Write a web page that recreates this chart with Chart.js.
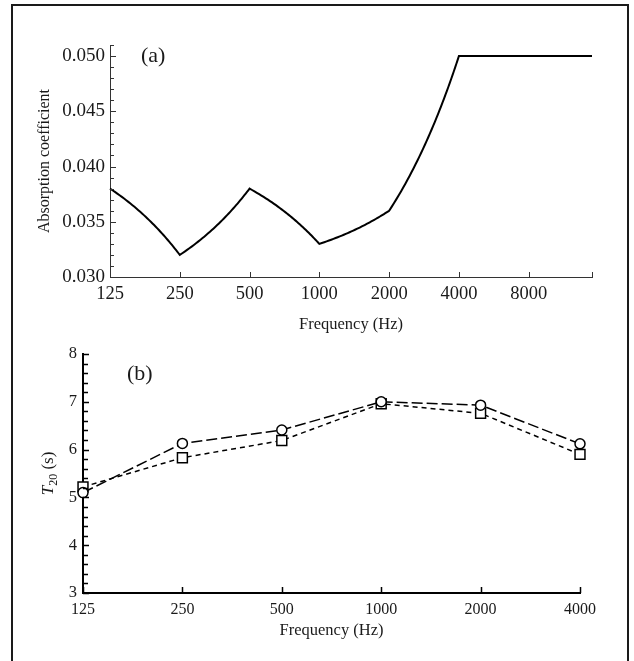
<!DOCTYPE html>
<html>
<head>
<meta charset="utf-8">
<title>Absorption coefficient and T20</title>
<script src="https://cdn.jsdelivr.net/npm/chart.js@4.4.1/dist/chart.umd.min.js"></script>
<style>
  body { margin: 0; background: #fff; }
  #frame { position: absolute; left: 11px; top: 4px; width: 614px; height: 720px; border: 2px solid #1a1a1a; }
  canvas { position: absolute; left: 0; }
  #chartA { top: 0; }
  #chartB { top: 335px; }
</style>
</head>
<body>
<div id="frame"></div>
<canvas id="chartA" width="634" height="335"></canvas>
<canvas id="chartB" width="634" height="326"></canvas>
<script>
// (a) absorption coefficient vs frequency
const freqA = [125, 250, 500, 1000, 2000, 4000, 15000];
const absorption = [0.038, 0.032, 0.038, 0.033, 0.036, 0.050, 0.050];
const freqTicksA = [125, 250, 500, 1000, 2000, 4000, 8000];
const absTicks = [0.030, 0.035, 0.040, 0.045, 0.050];

// (b) T20 per octave band, two series
const bandsB = [125, 250, 500, 1000, 2000, 4000];
const t20Circles = [5.1, 6.13, 6.41, 7.0, 6.93, 6.12];
const t20Squares = [5.22, 5.83, 6.19, 6.96, 6.76, 5.9];
const t20Ticks = [3, 4, 5, 6, 7, 8];

const SERIF = "'Liberation Serif', 'DejaVu Serif', serif";
const INK = "#1a1a1a";

// tick marks pointing into the plot area
const inwardTicks = {
  id: "inwardTicks",
  afterDraw(chart, args, opts) {
    const { ctx, chartArea: area, scales: { x, y } } = chart;
    ctx.save();
    ctx.strokeStyle = opts.color;
    ctx.lineWidth = opts.width;
    ctx.beginPath();
    y.ticks.forEach((t) => {
      const py = Math.round(y.getPixelForValue(t.value)) + 0.5;
      const len = t.label ? opts.major : opts.minor;
      ctx.moveTo(area.left, py);
      ctx.lineTo(area.left + len, py);
    });
    x.ticks.forEach((t) => {
      const px = Math.round(x.getPixelForValue(t.value)) + 0.5;
      ctx.moveTo(px, area.bottom);
      ctx.lineTo(px, area.bottom - opts.xLen);
    });
    ctx.stroke();
    ctx.restore();
  },
};

// panel letter in the upper left of the plot
const panelLabel = {
  id: "panelLabel",
  afterDraw(chart, args, opts) {
    const { ctx, chartArea: area } = chart;
    ctx.save();
    ctx.font = `22px ${SERIF}`;
    ctx.fillStyle = INK;
    ctx.textBaseline = "middle";
    ctx.fillText(opts.text, area.left + opts.dx, area.top + opts.dy);
    ctx.restore();
  },
};

// segments joined linearly in frequency, so they bend on the log axis
const freqLinearPath = {
  id: "freqLinearPath",
  afterDatasetsDraw(chart) {
    const { ctx, scales: { x, y } } = chart;
    const pts = chart.data.datasets[0].data;
    ctx.save();
    ctx.strokeStyle = "#000";
    ctx.lineWidth = 2;
    ctx.lineJoin = "miter";
    ctx.beginPath();
    ctx.moveTo(x.getPixelForValue(pts[0].x), y.getPixelForValue(pts[0].y));
    for (let i = 0; i < pts.length - 1; i++) {
      const a = pts[i];
      const b = pts[i + 1];
      const steps = 40;
      for (let k = 1; k <= steps; k++) {
        const f = a.x + ((b.x - a.x) * k) / steps;
        const v = a.y + ((b.y - a.y) * k) / steps;
        ctx.lineTo(x.getPixelForValue(f), y.getPixelForValue(v));
      }
    }
    ctx.stroke();
    ctx.restore();
  },
};

// y title of (b): italic T with subscript 20
const t20Title = {
  id: "t20Title",
  afterDraw(chart) {
    const { ctx, chartArea: area } = chart;
    const cy = (area.top + area.bottom) / 2;
    ctx.save();
    ctx.translate(53, cy);
    ctx.rotate(-Math.PI / 2);
    ctx.fillStyle = INK;
    ctx.textBaseline = "alphabetic";
    const big = `17px ${SERIF}`;
    const it = `italic 17px ${SERIF}`;
    const sub = `12px ${SERIF}`;
    ctx.font = it;
    const wT = ctx.measureText("T").width;
    ctx.font = sub;
    const w20 = ctx.measureText("20").width;
    ctx.font = big;
    const wS = ctx.measureText(" (s)").width;
    let xx = -(wT + w20 + wS) / 2;
    ctx.font = it;
    ctx.fillText("T", xx, 0);
    xx += wT;
    ctx.font = sub;
    ctx.fillText("20", xx, 4);
    xx += w20;
    ctx.font = big;
    ctx.fillText(" (s)", xx, 0);
    ctx.restore();
  },
};

const near = (list, v) => list.some((t) => Math.abs(t - v) < 1e-9);

new Chart(document.getElementById("chartA"), {
  type: "scatter",
  data: {
    datasets: [
      {
        data: freqA.map((f, i) => ({ x: f, y: absorption[i] })),
        showLine: false,
        pointRadius: 0,
        clip: false,
      },
    ],
  },
  options: {
    responsive: false,
    animation: false,
    devicePixelRatio: 1,
    layout: { padding: { top: 45, right: 42, left: 0, bottom: 0 } },
    plugins: {
      legend: { display: false },
      tooltip: { enabled: false },
      inwardTicks: { color: "#333", width: 1, major: 6, minor: 4, xLen: 5 },
      panelLabel: { text: "(a)", dx: 31, dy: 11 },
    },
    scales: {
      x: {
        type: "logarithmic",
        min: 125,
        max: 15000,
        afterBuildTicks: (s) => {
          s.ticks = freqTicksA.concat([15000]).map((v) => ({ value: v }));
        },
        afterFit: (s) => {
          s.height = 58;
          s.paddingLeft = 0;
          s.paddingRight = 0;
        },
        ticks: {
          autoSkip: false,
          maxRotation: 0,
          padding: 6,
          color: INK,
          font: { family: SERIF, size: 18.5 },
          callback: (v) => (freqTicksA.includes(v) ? String(v) : ""),
        },
        grid: { display: false, drawTicks: false },
        border: { color: "#333", width: 1 },
        title: {
          display: true,
          text: "Frequency (Hz)",
          color: INK,
          font: { family: SERIF, size: 16.5 },
          padding: { top: 0, bottom: 0 },
        },
      },
      y: {
        min: 0.03,
        max: 0.051,
        ticks: {
          stepSize: 0.001,
          autoSkip: false,
          padding: 5,
          color: INK,
          font: { family: SERIF, size: 19 },
          callback: (v) => (near(absTicks, v) ? v.toFixed(3) : ""),
        },
        afterFit: (s) => {
          s.width = 110;
          s.paddingTop = 0;
          s.paddingBottom = 0;
        },
        grid: { display: false, drawTicks: false },
        border: { color: "#333", width: 1 },
        title: {
          display: true,
          text: "Absorption coefficient",
          color: INK,
          font: { family: SERIF, size: 16 },
          padding: { top: 35, bottom: 0 },
        },
      },
    },
  },
  plugins: [freqLinearPath, inwardTicks, panelLabel],
});

new Chart(document.getElementById("chartB"), {
  type: "line",
  data: {
    datasets: [
      {
        data: bandsB.map((f, i) => ({ x: f, y: t20Circles[i] })),
        borderColor: "#000",
        borderWidth: 1.5,
        borderDash: [11, 4],
        pointStyle: "circle",
        pointRadius: 5,
        pointBorderWidth: 1.5,
        pointBorderColor: "#000",
        pointBackgroundColor: "#fff",
        clip: false,
      },
      {
        data: bandsB.map((f, i) => ({ x: f, y: t20Squares[i] })),
        borderColor: "#000",
        borderWidth: 1.5,
        borderDash: [5, 4],
        pointStyle: "rect",
        pointRadius: 7,
        pointBorderWidth: 1.5,
        pointBorderColor: "#000",
        pointBackgroundColor: "#fff",
        clip: false,
      },
    ],
  },
  options: {
    responsive: false,
    animation: false,
    devicePixelRatio: 1,
    layout: { padding: { top: 19, right: 54, left: 0, bottom: 0 } },
    plugins: {
      legend: { display: false },
      tooltip: { enabled: false },
      inwardTicks: { color: "#000", width: 1.5, major: 6, minor: 5, xLen: 6 },
      panelLabel: { text: "(b)", dx: 44, dy: 20 },
    },
    scales: {
      x: {
        type: "logarithmic",
        min: 125,
        max: 4000,
        afterBuildTicks: (s) => {
          s.ticks = bandsB.map((v) => ({ value: v }));
        },
        afterFit: (s) => {
          s.height = 68;
          s.paddingLeft = 0;
          s.paddingRight = 0;
        },
        ticks: {
          autoSkip: false,
          maxRotation: 0,
          padding: 7,
          color: INK,
          font: { family: SERIF, size: 16 },
          callback: (v) => String(v),
        },
        grid: { display: false, drawTicks: false },
        border: { color: "#000", width: 2 },
        title: {
          display: true,
          text: "Frequency (Hz)",
          color: INK,
          font: { family: SERIF, size: 16.5 },
          padding: { top: 0, bottom: 20 },
        },
      },
      y: {
        min: 3,
        max: 8,
        ticks: {
          stepSize: 0.2,
          autoSkip: false,
          padding: 6,
          color: INK,
          font: { family: SERIF, size: 16.5 },
          callback: (v) => (near(t20Ticks, v) ? String(Math.round(v)) : ""),
        },
        afterFit: (s) => {
          s.width = 83;
          s.paddingTop = 0;
          s.paddingBottom = 0;
        },
        grid: { display: false, drawTicks: false },
        border: { color: "#000", width: 2 },
        title: { display: false },
      },
    },
  },
  plugins: [inwardTicks, panelLabel, t20Title],
});
</script>
</body>
</html>
